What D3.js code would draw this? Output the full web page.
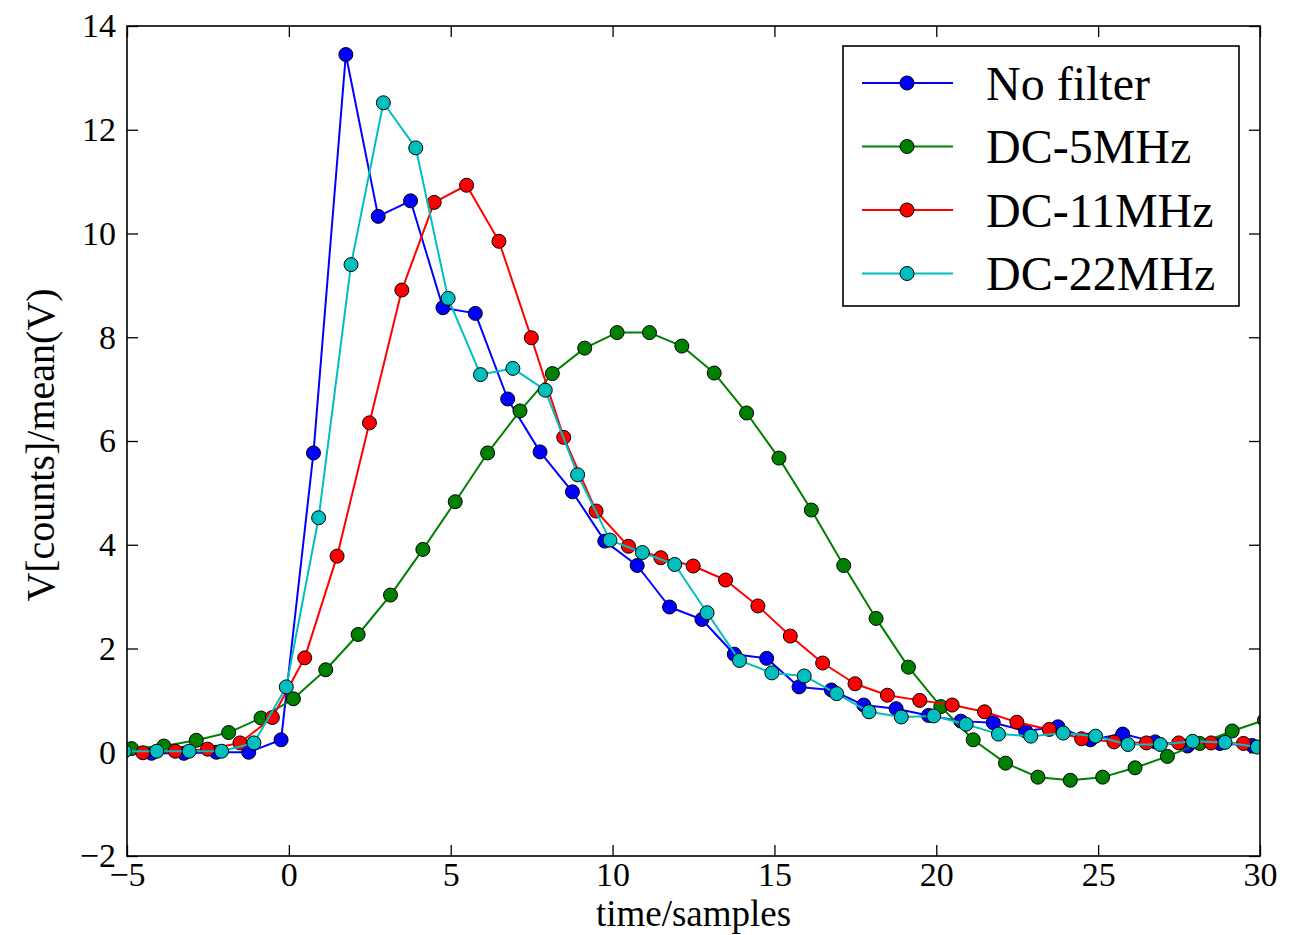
<!DOCTYPE html>
<html>
<head>
<meta charset="utf-8">
<script src="https://cdn.jsdelivr.net/npm/d3@7"></script>
<style>
	body { margin: 0; background: #fff; }
</style>
</head>
<body>
<svg id="chart" width="1291" height="935"></svg>
<script>
// sample times and values, one pair of arrays per filter
var timeNoFilter = [-4.24, -3.24, -2.24, -1.24, -0.24, 0.76, 1.76, 2.76, 3.76, 4.76, 5.76, 6.76, 7.76, 8.76, 9.76, 10.76, 11.76, 12.76, 13.76, 14.76, 15.76, 16.76, 17.76, 18.76, 19.76, 20.76, 21.76, 22.76, 23.76, 24.76, 25.76, 26.76, 27.76, 28.76, 29.76];
var valNoFilter = [-0.02, -0.02, 0.0, 0.0, 0.24, 5.77, 13.45, 10.33, 10.63, 8.57, 8.46, 6.81, 5.79, 5.02, 4.07, 3.60, 2.80, 2.56, 1.89, 1.81, 1.26, 1.20, 0.91, 0.84, 0.71, 0.60, 0.57, 0.41, 0.49, 0.24, 0.35, 0.20, 0.12, 0.17, 0.13];

var time5 = [-4.86, -3.86, -2.86, -1.86, -0.86, 0.14, 1.14, 2.14, 3.14, 4.14, 5.14, 6.14, 7.14, 8.14, 9.14, 10.14, 11.14, 12.14, 13.14, 14.14, 15.14, 16.14, 17.14, 18.14, 19.14, 20.14, 21.14, 22.14, 23.14, 24.14, 25.14, 26.14, 27.14, 28.14, 29.14, 30.14];
var val5 = [0.07, 0.12, 0.23, 0.38, 0.66, 1.03, 1.59, 2.27, 3.03, 3.91, 4.83, 5.77, 6.58, 7.30, 7.79, 8.09, 8.09, 7.83, 7.31, 6.54, 5.67, 4.67, 3.60, 2.58, 1.64, 0.88, 0.24, -0.21, -0.48, -0.54, -0.48, -0.30, -0.08, 0.17, 0.41, 0.62];

var time11 = [-4.51, -3.51, -2.51, -1.51, -0.51, 0.49, 1.49, 2.49, 3.49, 4.49, 5.49, 6.49, 7.49, 8.49, 9.49, 10.49, 11.49, 12.49, 13.49, 14.49, 15.49, 16.49, 17.49, 18.49, 19.49, 20.49, 21.49, 22.49, 23.49, 24.49, 25.49, 26.49, 27.49, 28.49, 29.49];
var val11 = [-0.01, 0.02, 0.06, 0.18, 0.67, 1.82, 3.78, 6.35, 8.91, 10.60, 10.93, 9.85, 7.99, 6.07, 4.65, 3.97, 3.75, 3.59, 3.32, 2.82, 2.24, 1.72, 1.32, 1.10, 1.00, 0.91, 0.78, 0.58, 0.44, 0.26, 0.20, 0.18, 0.18, 0.18, 0.17];

var time22 = [-5.08, -4.08, -3.08, -2.08, -1.08, -0.08, 0.92, 1.92, 2.92, 3.92, 4.92, 5.92, 6.92, 7.92, 8.92, 9.92, 10.92, 11.92, 12.92, 13.92, 14.92, 15.92, 16.92, 17.92, 18.92, 19.92, 20.92, 21.92, 22.92, 23.92, 24.92, 25.92, 26.92, 27.92, 28.92, 29.92];
var val22 = [0.02, 0.02, 0.02, 0.02, 0.18, 1.26, 4.52, 9.40, 12.52, 11.65, 8.75, 7.28, 7.40, 6.98, 5.35, 4.09, 3.85, 3.62, 2.69, 1.77, 1.53, 1.47, 1.13, 0.78, 0.68, 0.70, 0.54, 0.35, 0.31, 0.37, 0.31, 0.15, 0.15, 0.21, 0.19, 0.10];

var seriesNames = ["No filter", "DC-5MHz", "DC-11MHz", "DC-22MHz"];
var seriesColors = ["#0000ff", "#008000", "#ff0000", "#00bfbf"];

var xTicks = [-5, 0, 5, 10, 15, 20, 25, 30];
var yTicks = [-2, 0, 2, 4, 6, 8, 10, 12, 14];

var serif = "Liberation Serif";

var series = [
	{ t: timeNoFilter, v: valNoFilter },
	{ t: time5, v: val5 },
	{ t: time11, v: val11 },
	{ t: time22, v: val22 }
].map(function (s, i) {
	return {
		name: seriesNames[i],
		color: seriesColors[i],
		points: s.t.map(function (t, j) { return { x: t, y: s.v[j] }; })
	};
});

const svg = d3.select("#chart");
const margin = {top: 26, right: 31, bottom: 79, left: 127};
const width = 1291 - margin.left - margin.right,
	height = 935 - margin.top - margin.bottom;

let x = d3.scaleLinear().domain([-5, 30]).range([0, width]);
let y = d3.scaleLinear().domain([-2, 14]).range([height, 0]);

const g = svg.append("g").attr("transform", "translate(" + margin.left + "," + margin.top + ")");

g.append("clipPath").attr("id", "plotClip")
	.append("rect").attr("width", width).attr("height", height);

const tick = 11;

// bottom and left axes carry the labels, top and right only ticks
g.append("g").attr("transform", "translate(0," + height + ")")
	.call(d3.axisBottom(x).tickValues(xTicks).tickSize(-tick).tickPadding(6))
	.call(a => a.select(".domain").remove());
g.append("g")
	.call(d3.axisLeft(y).tickValues(yTicks).tickSize(-tick).tickPadding(11))
	.call(a => a.select(".domain").remove());
g.append("g")
	.call(d3.axisTop(x).tickValues(xTicks).tickSize(-tick).tickFormat(""))
	.call(a => a.select(".domain").remove());
g.append("g").attr("transform", "translate(" + width + ",0)")
	.call(d3.axisRight(y).tickValues(yTicks).tickSize(-tick).tickFormat(""))
	.call(a => a.select(".domain").remove());

g.selectAll(".tick line").attr("stroke", "#000").attr("stroke-width", 1.3);
g.selectAll(".tick text")
	.style("font-family", serif)
	.style("font-size", "34px");

const lineDrawer = d3.line()
	.x(d => x(d.x))
	.y(d => y(d.y));

const plot = g.append("g").attr("clip-path", "url(#plotClip)");

series.forEach(function (s) {
	plot.append("path")
		.datum(s.points)
		.attr("fill", "none")
		.attr("stroke", s.color)
		.attr("stroke-width", 2)
		.attr("stroke-linejoin", "round")
		.attr("d", lineDrawer);

	plot.append("g").selectAll("circle")
		.data(s.points)
		.join("circle")
		.attr("cx", d => x(d.x))
		.attr("cy", d => y(d.y))
		.attr("r", 7)
		.attr("fill", s.color)
		.attr("stroke", "#000")
		.attr("stroke-width", 1);
});

// frame
g.append("rect")
	.attr("width", width).attr("height", height)
	.attr("fill", "none").attr("stroke", "#000").attr("stroke-width", 1.6);

// axis labels
g.append("text")
	.attr("x", width / 2).attr("y", height + 70)
	.attr("text-anchor", "middle")
	.style("font-family", serif)
	.style("font-size", "37px")
	.text("time/samples");

g.append("text")
	.attr("transform", "translate(" + (54 - margin.left) + "," + (height / 2 + 4) + ") rotate(-90)")
	.attr("text-anchor", "middle")
	.style("font-family", serif)
	.style("font-size", "40px")
	.text("V[counts]/mean(V)");

// legend
const legend = svg.append("g").attr("transform", "translate(843,46)");
legend.append("rect")
	.attr("width", 396).attr("height", 260)
	.attr("fill", "#fff").attr("stroke", "#000").attr("stroke-width", 1.6);

series.forEach(function (s, i) {
	let row = legend.append("g").attr("transform", "translate(0," + (37 + i * 63.5) + ")");
	row.append("line")
		.attr("x1", 19).attr("x2", 110)
		.attr("stroke", s.color).attr("stroke-width", 2);
	row.append("circle")
		.attr("cx", 64).attr("r", 7)
		.attr("fill", s.color).attr("stroke", "#000").attr("stroke-width", 1);
	row.append("text")
		.attr("x", 143).attr("dy", "0.35em")
		.style("font-family", serif)
		.style("font-size", "48px")
		.text(s.name);
});
</script>
</body>
</html>
